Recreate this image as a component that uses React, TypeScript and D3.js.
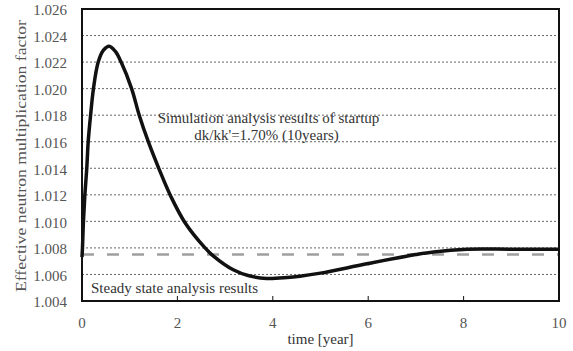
import React, { useEffect, useRef } from 'react';
import * as d3 from 'd3';

// simulated startup curve
const timeYears = [0, 0.01, 0.03, 0.06, 0.1, 0.13, 0.18, 0.24, 0.34, 0.45, 0.57, 0.7, 0.82, 1.04, 1.2, 1.39, 1.62, 1.86, 2.16, 2.58, 2.75, 3.17, 3.5, 3.87, 4.3, 4.57, 5.0, 5.97, 7.0, 7.37, 8.07, 9, 10];
const keffValues = [1.0073, 1.008, 1.01, 1.012, 1.014, 1.016, 1.018, 1.02, 1.022, 1.0229, 1.0232, 1.0228, 1.022, 1.02, 1.018, 1.016, 1.0139, 1.0119, 1.0099, 1.008, 1.0074, 1.00635, 1.0059, 1.0057, 1.00577, 1.00587, 1.0061, 1.0068, 1.0075, 1.0077, 1.0079, 1.0079, 1.0079];

const steadyStateValue = 1.0075;

const yTicks = [1.004, 1.006, 1.008, 1.01, 1.012, 1.014, 1.016, 1.018, 1.02, 1.022, 1.024, 1.026];
const xTicks = [0, 2, 4, 6, 8, 10];

const xTitle = 'time [year]';
const yTitle = 'Effective neutron multiplication factor';
const noteLines = ['Simulation analysis results of startup', "dk/kk'=1.70% (10years)"];
const steadyLabel = 'Steady state analysis results';

const W = 573;
const H = 351;
const FONT = '"Liberation Serif", "Times New Roman", serif';

const App: React.FC = () => {
  const svgRef = useRef<SVGSVGElement | null>(null);

  useEffect(() => {
    if (!svgRef.current) return;
    const margin = { top: 9, right: 14, bottom: 50, left: 82 };
    const innerWidth = W - margin.left - margin.right;
    const innerHeight = H - margin.top - margin.bottom;

    const svg = d3.select(svgRef.current);
    svg.selectAll('*').remove();

    const x = d3.scaleLinear().domain([0, 10]).range([0, innerWidth]);
    const y = d3.scaleLinear().domain([1.004, 1.026]).range([innerHeight, 0]);

    const g = svg.append('g').attr('transform', `translate(${margin.left},${margin.top})`);

    // dotted horizontal grid
    g.selectAll('.grid')
      .data(yTicks.slice(1, -1))
      .join('line')
      .attr('x1', 0)
      .attr('x2', innerWidth)
      .attr('y1', (d) => y(d))
      .attr('y2', (d) => y(d))
      .attr('stroke', '#666')
      .attr('stroke-width', 1)
      .attr('stroke-dasharray', '2,2');

    // steady state dashed line
    g.append('line')
      .attr('x1', 0)
      .attr('x2', innerWidth)
      .attr('y1', y(steadyStateValue))
      .attr('y2', y(steadyStateValue))
      .attr('stroke', '#a0a0a0')
      .attr('stroke-width', 2.5)
      .attr('stroke-dasharray', '12,13');

    const data = timeYears.map((t, i) => ({ t, k: keffValues[i] }));
    const line = d3
      .line<{ t: number; k: number }>()
      .x((d) => x(d.t))
      .y((d) => y(d.k))
      .curve(d3.curveCatmullRom.alpha(0.5));

    g.append('path')
      .datum(data)
      .attr('fill', 'none')
      .attr('stroke', '#111')
      .attr('stroke-width', 3.5)
      .attr('stroke-linejoin', 'round')
      .attr('d', line);

    // frame
    g.append('rect')
      .attr('width', innerWidth)
      .attr('height', innerHeight)
      .attr('fill', 'none')
      .attr('stroke', '#111')
      .attr('stroke-width', 2);

    // inward ticks on x
    g.selectAll('.xtick')
      .data(xTicks.slice(1, -1))
      .join('line')
      .attr('x1', (d) => x(d))
      .attr('x2', (d) => x(d))
      .attr('y1', innerHeight)
      .attr('y2', innerHeight - 5)
      .attr('stroke', '#111')
      .attr('stroke-width', 1);

    g.selectAll('.xlab')
      .data(xTicks)
      .join('text')
      .attr('x', (d) => x(d))
      .attr('y', innerHeight + 27)
      .attr('text-anchor', 'middle')
      .attr('font-family', FONT)
      .attr('font-size', 15)
      .attr('fill', '#555')
      .text((d) => d);

    g.selectAll('.ylab')
      .data(yTicks)
      .join('text')
      .attr('x', -15)
      .attr('y', (d) => y(d) + 1)
      .attr('dy', '0.35em')
      .attr('text-anchor', 'end')
      .attr('font-family', FONT)
      .attr('font-size', 15)
      .attr('fill', '#555')
      .text((d) => d3.format('.3f')(d));

    g.append('text')
      .attr('x', innerWidth / 2)
      .attr('y', innerHeight + 43)
      .attr('text-anchor', 'middle')
      .attr('font-family', FONT)
      .attr('font-size', 15)
      .attr('fill', '#333')
      .text(xTitle);

    svg.append('text')
      .attr('transform', `translate(26,${margin.top + innerHeight / 2 + 1}) rotate(-90)`)
      .attr('text-anchor', 'middle')
      .attr('font-family', FONT)
      .attr('font-size', 15)
      .attr('fill', '#555')
      .attr('textLength', 272)
      .attr('lengthAdjust', 'spacingAndGlyphs')
      .text(yTitle);

    noteLines.forEach((s, i) => {
      g.append('text')
        .attr('x', x(3.91) - i * 2)
        .attr('y', y(1.0174) + i * 17)
        .attr('text-anchor', 'middle')
        .attr('font-family', FONT)
        .attr('font-size', 15)
        .attr('fill', '#333')
        .text(s);
    });

    g.append('text')
      .attr('x', 9)
      .attr('y', y(1.0046))
      .attr('font-family', FONT)
      .attr('font-size', 15)
      .attr('fill', '#333')
      .text(steadyLabel);
  }, []);

  return (
    <svg
      ref={svgRef}
      width={W}
      height={H}
      style={{ position: 'absolute', left: 0, top: 0, background: 'white' }}
    />
  );
};

export default App;
